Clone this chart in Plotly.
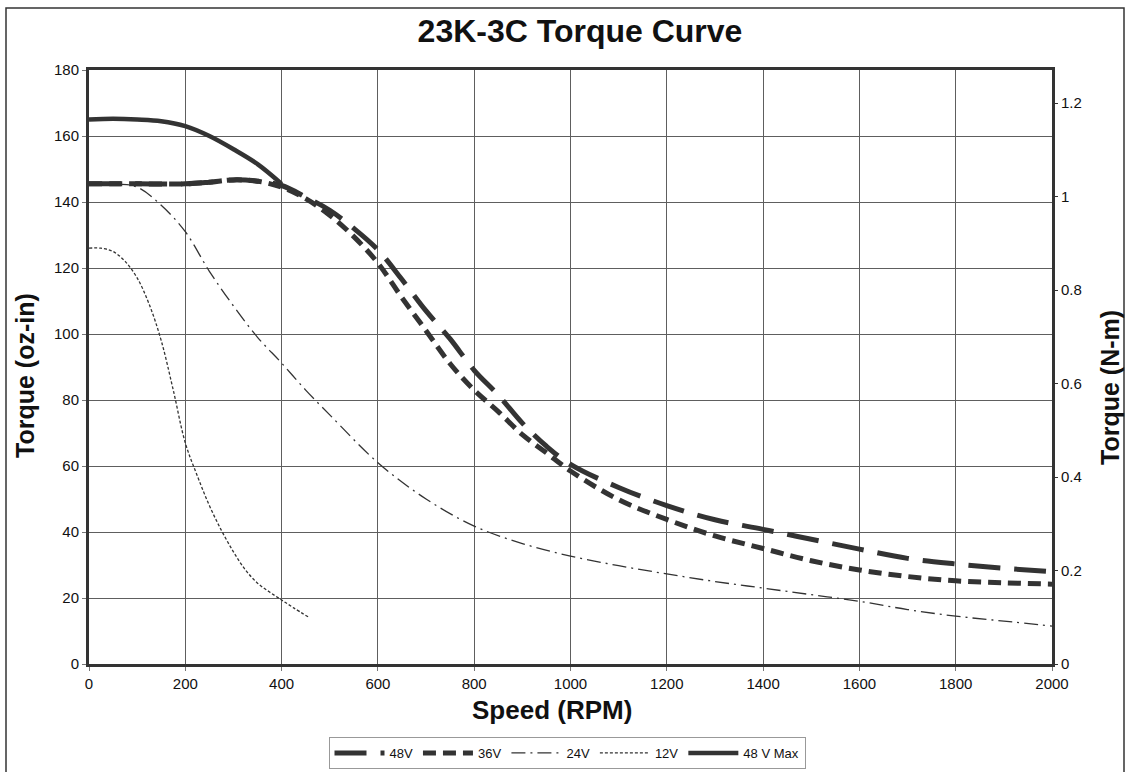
import plotly.graph_objects as go

# ---- data ----
rpm_48 = [0, 100, 200, 250, 300, 350, 400, 450, 500, 550, 600, 650, 700, 750, 800, 850, 900, 950, 1000,
          1100, 1200, 1300, 1400, 1500, 1600, 1700, 1800, 1900, 2000]
tq_48 = [145.5, 145.5, 145.5, 146, 146.7, 146.3, 145, 141.5, 137.5, 132, 125.5, 116.5, 107, 98.5, 89, 81.5,
         73, 66, 60.5, 53.5, 48, 43.7, 40.8, 37.8, 34.8, 32, 30.3, 29, 28]

rpm_36 = [0, 100, 200, 250, 300, 350, 400, 450, 500, 550, 600, 650, 700, 750, 800, 850, 900, 950, 1000,
          1100, 1200, 1300, 1400, 1500, 1600, 1700, 1800, 1900, 2000]
tq_36 = [145.5, 145.5, 145.5, 146, 146.7, 146.3, 144.5, 141, 136, 129.5, 121.5, 111, 101, 91, 83, 76.5,
         69.5, 64, 58.5, 49.8, 43.8, 38.8, 35, 31.3, 28.5, 26.5, 25.2, 24.6, 24.2]

rpm_24 = [0, 50, 100, 150, 200, 250, 300, 350, 400, 450, 500, 600, 700, 800, 900, 1000, 1100, 1200, 1300,
          1400, 1500, 1600, 1700, 1800, 1900, 2000]
tq_24 = [145.5, 145.5, 144.5, 139, 131, 119, 108.5, 99, 91.2, 83, 75.5, 61, 50, 41.8, 36.5, 32.7, 29.8,
         27.3, 25, 23, 21, 19, 16.5, 14.5, 13, 11.5]

rpm_12 = [0, 25, 50, 75, 100, 125, 150, 175, 200, 225, 250, 275, 300, 325, 350, 375, 400, 425, 455]
tq_12 = [126, 126, 125, 122, 117, 109, 98, 83, 67, 57, 48, 40.5, 34, 28.5, 24.5, 21.8, 19.4, 17, 14.3]

rpm_48max = [0, 50, 100, 150, 200, 250, 300, 350, 400]
tq_48max = [165, 165.2, 165, 164.5, 163, 160, 156, 151.5, 145.5]

x_ticks = [0, 200, 400, 600, 800, 1000, 1200, 1400, 1600, 1800, 2000]
y_ticks = [0, 20, 40, 60, 80, 100, 120, 140, 160, 180]
nm_ticks = [0, 0.2, 0.4, 0.6, 0.8, 1, 1.2]
OZIN_PER_NM = 141.612

C = "#333333"
TXT = "#111111"
FONT = "Liberation Sans, Arial, sans-serif"

fig = go.Figure()
fig.add_trace(go.Scatter(x=rpm_48, y=tq_48, name="48V", mode="lines", line_shape="spline",
                         line=dict(color=C, width=5, dash="32px,14px")))
fig.add_trace(go.Scatter(x=rpm_36, y=tq_36, name="36V", mode="lines", line_shape="spline",
                         line=dict(color=C, width=5, dash="13px,7px")))
fig.add_trace(go.Scatter(x=rpm_24, y=tq_24, name="24V", mode="lines", line_shape="spline",
                         line=dict(color=C, width=1.3, dash="14px,5px,2px,5px")))
fig.add_trace(go.Scatter(x=rpm_12, y=tq_12, name="12V", mode="lines", line_shape="spline",
                         line=dict(color=C, width=1.3, dash="3px,2px")))
fig.add_trace(go.Scatter(x=rpm_48max, y=tq_48max, name="48 V Max", mode="lines", line_shape="spline",
                         line=dict(color=C, width=4.5)))
# invisible trace on the N-m axis so that it is drawn
fig.add_trace(go.Scatter(x=[0], y=[0], yaxis="y2", mode="markers", marker=dict(opacity=0),
                         showlegend=False, hoverinfo="skip"))

W, H = 1132, 772
L, R, T, B = 89, 1052, 70, 664
pw, ph = R - L, B - T

def px(xp):
    return (xp - L) / pw

def py(yp):
    return (B - yp) / ph

fig.update_layout(
    width=W, height=H,
    margin=dict(l=L, r=W - R, t=T, b=H - B, autoexpand=False),
    paper_bgcolor="white", plot_bgcolor="white",
    font=dict(family=FONT, color=TXT, size=15),
    title=dict(text="<b>23K-3C Torque Curve</b>", x=580 / W, xanchor="center", y=1 - 31 / H,
               yanchor="middle", font=dict(size=32, family=FONT, color=TXT)),
    xaxis=dict(range=[0, 2000], tickvals=x_ticks, showgrid=True, gridcolor="#5e5e5e", gridwidth=1,
               showline=True, linecolor=C, linewidth=3, mirror=True, ticks="outside", ticklen=4,
               tickcolor="#777777", zeroline=False, tickfont=dict(size=15), automargin=False),
    yaxis=dict(range=[0, 180], tickvals=y_ticks, showgrid=True, gridcolor="#5e5e5e", gridwidth=1,
               showline=True, linecolor=C, linewidth=3, mirror=True, ticks="outside", ticklen=4,
               tickcolor="#777777", zeroline=False, tickfont=dict(size=15), automargin=False),
    yaxis2=dict(range=[0, 180 / OZIN_PER_NM], tickvals=nm_ticks, overlaying="y", side="right",
                showgrid=False, zeroline=False, ticks="outside", ticklen=5, tickcolor="#333333",
                tickfont=dict(size=15), automargin=False),
    legend=dict(orientation="h", x=px(567), xanchor="center", y=py(737), yanchor="top",
                bordercolor="#999999", borderwidth=1, bgcolor="white",
                font=dict(size=13, color=TXT), itemwidth=50, tracegroupgap=0),
    showlegend=True,
    annotations=[
        dict(text="<b>Speed (RPM)</b>", xref="paper", yref="paper", x=px(552), y=py(710),
             xanchor="center", yanchor="middle", showarrow=False, font=dict(size=26, color=TXT)),
        dict(text="<b>Torque (oz-in)</b>", xref="paper", yref="paper", x=px(25), y=py(376),
             xanchor="center", yanchor="middle", textangle=-90, showarrow=False,
             font=dict(size=25, color=TXT)),
        dict(text="<b>Torque (N-m)</b>", xref="paper", yref="paper", x=px(1110), y=py(388),
             xanchor="center", yanchor="middle", textangle=-90, showarrow=False,
             font=dict(size=25, color=TXT)),
    ],
    shapes=[dict(type="rect", xref="paper", yref="paper", x0=px(6), x1=px(1124), y0=py(790), y1=py(8),
                 line=dict(color="#333333", width=1.5), layer="below")],
)

fig.write_html("out.html", config={"displayModeBar": False},
               post_script="document.body.style.margin='0';document.body.style.overflow='hidden';")
